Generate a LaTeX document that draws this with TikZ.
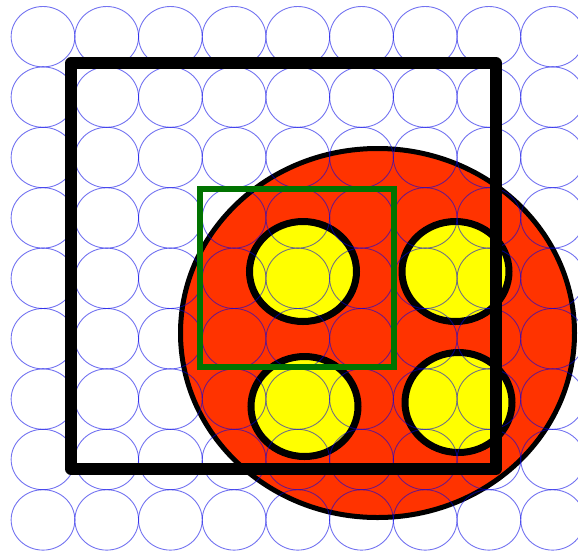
\documentclass[tikz,border=0pt]{standalone}
\definecolor{redc}{RGB}{255,51,0}
\definecolor{yellowc}{RGB}{255,255,0}
\definecolor{greenc}{RGB}{0,115,0}
\definecolor{bluec}{RGB}{0,0,230}
\tikzset{
  bigdisc/.style={fill=redc, draw=black, line width=5pt},
  smalldisc/.style={fill=yellowc, draw=black, line width=7pt},
  gridcircle/.style={draw=bluec, draw opacity=0.55, line width=0.9pt},
  greensq/.style={draw=greenc, line width=6pt},
  blacksq/.style={draw=black, line width=11.5pt, line join=round}
}
\begin{document}
\begin{tikzpicture}[x=1pt,y=-1pt]
\useasboundingbox (0,0) rectangle (578,550);
\fill[white] (0,0) rectangle (578,550);
% big red disc
\filldraw[bigdisc] (377.5,333) ellipse [x radius=197, y radius=184.5];
% yellow discs
\filldraw[smalldisc] (303,271.5) ellipse [x radius=53.5, y radius=50];
\filldraw[smalldisc] (455.5,271.5) ellipse [x radius=53.5, y radius=50];
\filldraw[smalldisc] (304.5,406.5) ellipse [x radius=53.5, y radius=50];
\filldraw[smalldisc] (458.5,402.5) ellipse [x radius=53.5, y radius=50];
% blue grid of circles
\foreach \i in {0,...,8}{
  \foreach \j in {0,...,8}{
    \draw[gridcircle] ({43+63.7*\i},{36.7+60.4*\j}) ellipse [x radius=31.85, y radius=30.2];
  }
}
% green square
\draw[greensq] (199.5,189) rectangle (394,367);
% black square
\draw[blacksq] (71,63) rectangle (496,469);
\end{tikzpicture}
\end{document}
